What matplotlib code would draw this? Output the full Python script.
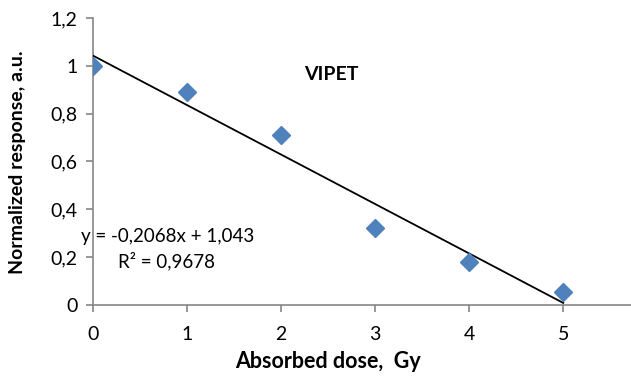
import numpy as np
import matplotlib.pyplot as plt

dose = [0, 1, 2, 3, 4, 5]
response = [1.0, 0.89, 0.71, 0.32, 0.18, 0.055]
yticks = [0, 0.2, 0.4, 0.6, 0.8, 1.0, 1.2]
ytick_labels = ['0', '0,2', '0,4', '0,6', '0,8', '1', '1,2']
xticks = [0, 1, 2, 3, 4, 5]

plt.rcParams['font.family'] = ['Lato', 'DejaVu Sans']

fig = plt.figure(figsize=(6.31, 3.76), dpi=100)
ax = fig.add_axes([0.147, 0.189, 0.853, 0.763])

# linear trendline
k, b = np.polyfit(dose, response, 1)
xf = np.array([dose[0], dose[-1]])
ax.plot(xf, k * xf + b, color='black', lw=1.3, zorder=2)

ax.plot(dose, response, linestyle='none', marker='D', markersize=9.5,
        color='#4F81BD', markeredgecolor='#4F81BD', zorder=3)

ax.set_xlim(0, 5.72)
ax.set_ylim(0, 1.2)
ax.set_xticks(xticks)
ax.set_xticklabels([str(t) for t in xticks])
ax.set_yticks(yticks)
ax.set_yticklabels(ytick_labels)

for s in ['top', 'right']:
    ax.spines[s].set_visible(False)
for s in ['left', 'bottom']:
    ax.spines[s].set_color('#868686')
    ax.spines[s].set_linewidth(1.2)
ax.spines['left'].set_zorder(1)
ax.tick_params(axis='both', colors='#868686', length=5, width=1.2,
               labelsize=14, labelcolor='black', pad=6)
ax.tick_params(axis='x', pad=10)

fig.text(0.52, 1 - 362 / 376, 'Absorbed dose,  Gy', fontsize=15.5, fontweight='bold',
         ha='center', va='center')
fig.text(18 / 631, 1 - 162 / 376, 'Normalized response, a.u.', fontsize=14,
         fontweight='bold', ha='center', va='center', rotation=90)

ax.text(2.53, 0.965, 'VIPET', fontsize=14, fontweight='bold', ha='center', va='center')
ax.text(0.80, 0.287, 'y = -0,2068x + 1,043', fontsize=13.5, ha='center', va='center')
ax.text(0.78, 0.182, 'R² = 0,9678', fontsize=13.5, ha='center', va='center')

fig.savefig('out.png', dpi=100)
